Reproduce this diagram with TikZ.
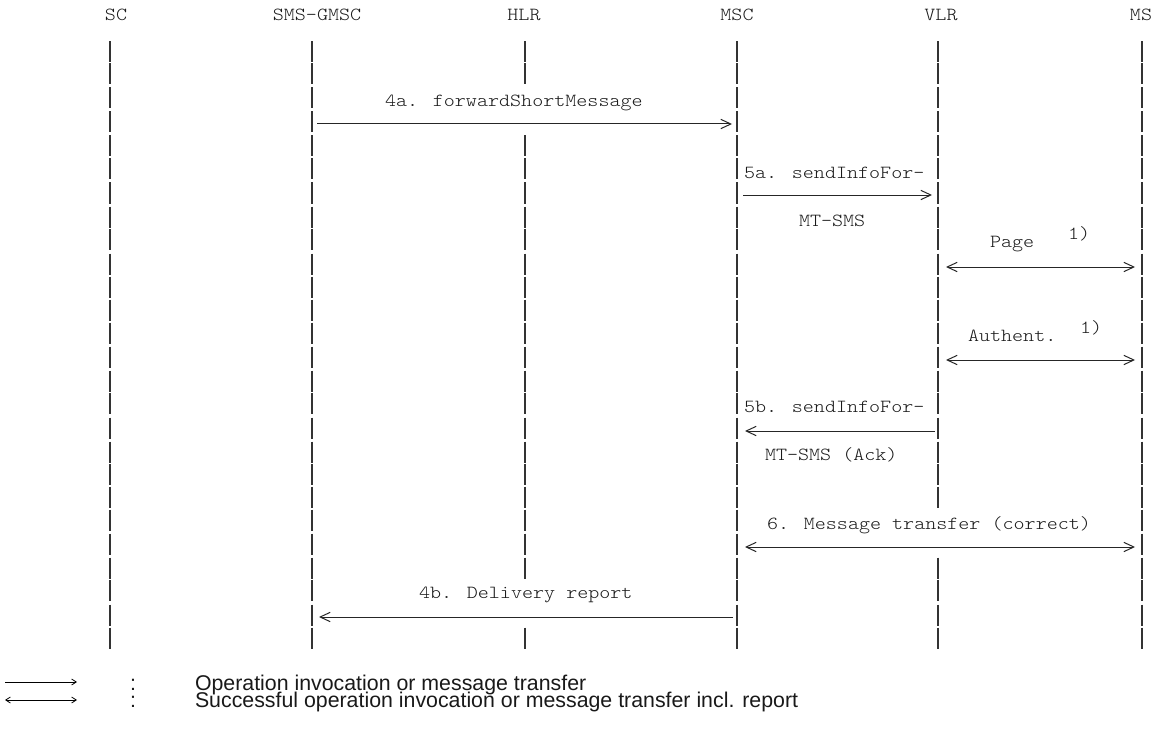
\documentclass[tikz,border=0pt]{standalone}
\usepackage{fontspec}
\setsansfont{Liberation Sans}
\newfontfamily\courfont[Extension=.otf,FakeStretch=1.14]{lmmonolt10-regular}
\usetikzlibrary{arrows.meta,calc}
\begin{document}
\begin{tikzpicture}[x=0.75pt,y=-0.75pt,
  every node/.style={inner sep=0pt,outer sep=0pt,text=black!90},
  mono/.style={font=\courfont\fontsize{13.84}{16}\selectfont},
  lbl/.style={mono,anchor=base west},
  head/.style={mono,anchor=base},
  legfont/.style={font={\sffamily\fontsize{16}{12.75}\selectfont\lineskiplimit=-\maxdimen\lineskip=0pt}},
  life/.style={line width=1.1pt,black!80},
  msg/.style={line width=0.75pt,black!85,-{Straight Barb[length=7.5pt,width=7pt,line width=0.75pt]}},
  msgboth/.style={line width=0.75pt,black!85,{Straight Barb[length=7.5pt,width=7pt,line width=0.75pt]}-{Straight Barb[length=7.5pt,width=7pt,line width=0.75pt]}},
  legarrow/.style={line width=0.6pt,black,-{Straight Barb[length=3.5pt,width=4.5pt,line width=0.6pt]}},
  legboth/.style={line width=0.6pt,black,{Straight Barb[length=3.5pt,width=4.5pt,line width=0.6pt]}-{Straight Barb[length=3.5pt,width=4.5pt,line width=0.6pt]}},
]
\useasboundingbox (0,0) rectangle (1163,731);

% headers
\node[head] (sc)   at (116,21) {SC};
\node[head] (gmsc) at (317,21) {SMS-GMSC};
\node[head] (hlr)  at (524,21) {HLR};
\node[head] (msc)  at (737,21) {MSC};
\node[head] (vlr)  at (941,21) {VLR};
\node[head] (ms)   at (1141,21) {MS};

% lifeline x positions
\coordinate (scL)   at (110,0);
\coordinate (gmscL) at (312,0);
\coordinate (hlrL)  at (525,0);
\coordinate (mscL)  at (737,0);
\coordinate (vlrL)  at (938,0);
\coordinate (msL)   at (1142,0);

\def\rowstarts{{41,63,87,111,135,158,182,206,228,253,276,299,322,346,370,392,417,441,463,486,509,533,557,579,604,627}}
\newcommand\lifeseg[3]{%
  \foreach \i in {#2,...,#3}{%
    \pgfmathsetmacro\ys{\rowstarts[\i]+0.5}%
    \pgfmathsetmacro\ye{\rowstarts[\i]+21.5}%
    \draw[life] (#1 |- 0,\ys) -- (#1 |- 0,\ye);
  }}
\lifeseg{scL}{0}{25}
\lifeseg{gmscL}{0}{25}
\lifeseg{hlrL}{0}{1}
\lifeseg{hlrL}{4}{22}
\lifeseg{hlrL}{25}{25}
\lifeseg{mscL}{0}{25}
\lifeseg{vlrL}{0}{19}
\lifeseg{vlrL}{22}{25}
\lifeseg{msL}{0}{25}

% message rows
\coordinate (y4a) at (0,124);
\coordinate (y5a) at (0,195);
\coordinate (yPg) at (0,267);
\coordinate (yAu) at (0,360);
\coordinate (y5b) at (0,431);
\coordinate (y6)  at (0,547);
\coordinate (y4b) at (0,617);

% messages
\draw[msg] ($(gmscL |- y4a)+(5,0)$) -- ($(mscL |- y4a)+(-5,0)$);
\draw[msg] ($(mscL |- y5a)+(6,0)$) -- ($(vlrL |- y5a)+(-6,0)$);
\draw[msgboth] ($(vlrL |- yPg)+(8,0)$) -- ($(msL |- yPg)+(-7,0)$);
\draw[msgboth] ($(vlrL |- yAu)+(8,0)$) -- ($(msL |- yAu)+(-7,0)$);
\draw[msg] ($(vlrL |- y5b)+(-3,0)$) -- ($(mscL |- y5b)+(8,0)$);
\draw[msgboth] ($(mscL |- y6)+(8,0)$) -- ($(msL |- y6)+(-7,0)$);
\draw[msg] ($(mscL |- y4b)+(-4,0)$) -- ($(gmscL |- y4b)+(7,0)$);

% labels
\node[lbl] (t4a) at (385,107) {4a. forwardShortMessage};
\node[lbl] (t5a) at (744,178.5) {5a. sendInfoFor-};
\node[lbl] (t5a2) at (799,226.5) {MT-SMS};
\node[lbl] (tpg) at (990,247.5) {Page};
\node[lbl] (tpg1) at (1068,239.5) {1)};
\node[lbl] (tau) at (968,341.5) {Authent.};
\node[lbl] (tau1) at (1080,333.5) {1)};
\node[lbl] (t5b) at (744,412.5) {5b. sendInfoFor-};
\node[lbl] (t5b2) at (765,460.5) {MT-SMS (Ack)};
\node[lbl] (t6) at (767,529.5) {6. Message transfer (correct)};
\node[lbl] (t4b) at (419,598.5) {4b. Delivery report};

% legend
\coordinate (la1) at (5,682);
\coordinate (lb1) at (77,682);
\coordinate (la2) at (5,700);
\coordinate (lb2) at (77,700);
\draw[legarrow] (la1) -- (lb1);
\draw[legboth] (la2) -- (lb2);
\node[legfont,align=center,anchor=base] (colons) at (133,707) {:\\:};
\node[legfont,align=left,anchor=base west] (legend) at (195,707) {Operation invocation or message transfer\\Successful operation invocation or message transfer incl. report};
\end{tikzpicture}
\end{document}
